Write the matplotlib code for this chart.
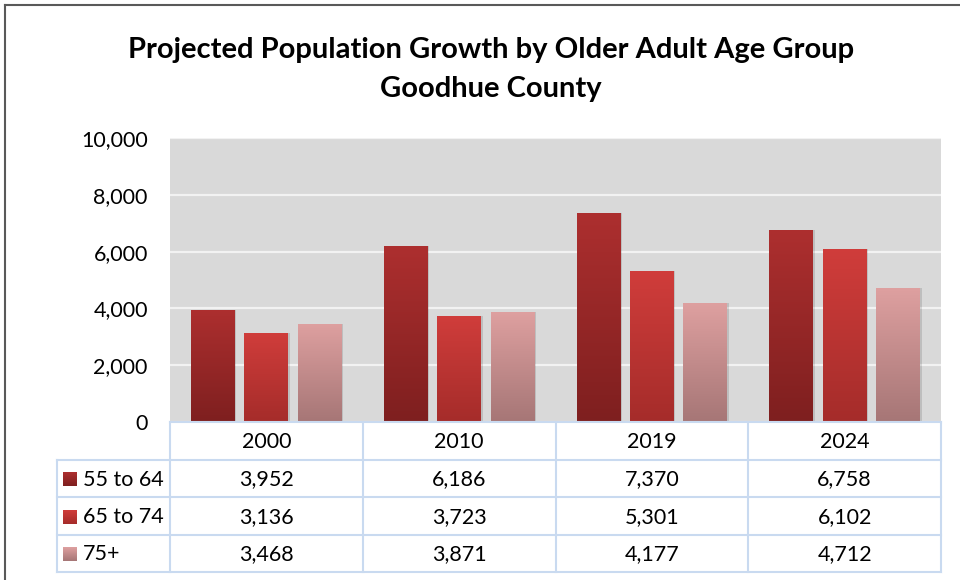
import numpy as np
import matplotlib.pyplot as plt
from matplotlib.colors import LinearSegmentedColormap

plt.rcParams['font.family'] = ['Lato', 'DejaVu Sans']

# Data
years = ['2000', '2010', '2019', '2024']
groups = ['55 to 64', '65 to 74', '75+']
age_55_64 = [3952, 6186, 7370, 6758]
age_65_74 = [3136, 3723, 5301, 6102]
age_75_up = [3468, 3871, 4177, 4712]
series = [age_55_64, age_65_74, age_75_up]

# top / bottom colour of each bar gradient
grad_colors = [('#ad2f2f', '#7e1f1f'), ('#d03d3b', '#a52c2a'), ('#dea0a0', '#a67676')]

W, H = 960, 580
fig = plt.figure(figsize=(W / 100, H / 100), dpi=100)
fs = 15.5

# plot area in pixels
x0, x1, ytop, ybot = 170, 941, 138, 422
ax = fig.add_axes([x0 / W, 1 - ybot / H, (x1 - x0) / W, (ybot - ytop) / H])
ax.set_facecolor('#d9d9d9')
ax.set_xlim(-0.5, len(years) - 0.5)
ax.set_ylim(0, 10000)
ax.set_yticks(np.arange(0, 10001, 2000))
ax.set_yticklabels([f'{v:,}' for v in range(0, 10001, 2000)], fontsize=fs)
ax.set_xticks([])
ax.tick_params(axis='y', length=0, pad=16)
for s in ax.spines.values():
    s.set_visible(False)
ax.yaxis.grid(True, color='#f2f2f2', lw=1.6)
ax.set_axisbelow(True)

width = 0.228
offsets = [-0.277, 0, 0.277]
x = np.arange(len(years))
grad = np.linspace(0, 1, 256).reshape(-1, 1)
for vals, off, (ctop, cbot) in zip(series, offsets, grad_colors):
    # soft shadow
    ax.bar(x + off + 0.008, vals, width, color='black', alpha=0.12, zorder=2)
    bars = ax.bar(x + off, vals, width, color=ctop, zorder=3)
    cmap = LinearSegmentedColormap.from_list('g', [cbot, ctop])
    for b in bars:
        bx, by = b.get_x(), b.get_y()
        im = ax.imshow(grad, cmap=cmap, origin='lower', aspect='auto', zorder=4,
                       extent=[bx, bx + b.get_width(), by, by + b.get_height()])
        im.set_clip_path(b)
ax.set_xlim(-0.5, len(years) - 0.5)
ax.set_ylim(0, 10000)

# overlay in pixel coordinates for table, title and frame
ov = fig.add_axes([0, 0, 1, 1])
ov.set_xlim(0, W)
ov.set_ylim(H, 0)
ov.axis('off')
ov.patch.set_alpha(0)

ov.text(491, 50, 'Projected Population Growth by Older Adult Age Group',
        ha='center', va='center', fontsize=21, fontweight='bold', color='black')
ov.text(491, 89, 'Goodhue County', ha='center', va='center',
        fontsize=21, fontweight='bold', color='black')

# chart frame
ov.plot([5, W], [5, 5], color='#595959', lw=1.5)
ov.plot([5, 5], [5, H], color='#595959', lw=1.5)

# data table
lc = '#c9daf0'
col_x = np.linspace(x0, x1, len(years) + 1)
row_y = [422, 460, 497, 535, 572]
tx0 = 57
ov.plot([x0, x1], [row_y[0], row_y[0]], color=lc, lw=1.5)
for yy in row_y[1:]:
    ov.plot([tx0, x1], [yy, yy], color=lc, lw=1.5)
for xx in col_x:
    ov.plot([xx, xx], [row_y[0], row_y[-1]], color=lc, lw=1.5)
ov.plot([tx0, tx0], [row_y[1], row_y[-1]], color=lc, lw=1.5)

for j, yr in enumerate(years):
    cx = (col_x[j] + col_x[j + 1]) / 2
    ov.text(cx, (row_y[0] + row_y[1]) / 2 + 1, yr, ha='center', va='center', fontsize=fs)
for i, (name, vals, (ctop, cbot)) in enumerate(zip(groups, series, grad_colors)):
    cy = (row_y[i + 1] + row_y[i + 2]) / 2 + 1
    cmap = LinearSegmentedColormap.from_list('g', [ctop, cbot])
    ov.imshow(grad, cmap=cmap, origin='upper', aspect='auto', zorder=3,
              extent=[63, 77, cy + 7, cy - 7])
    ov.text(83, cy, name, ha='left', va='center', fontsize=fs)
    for j, v in enumerate(vals):
        cx = (col_x[j] + col_x[j + 1]) / 2
        ov.text(cx, cy, f'{v:,}', ha='center', va='center', fontsize=fs)
ov.set_xlim(0, W)
ov.set_ylim(H, 0)

fig.savefig('out.png', dpi=100)
